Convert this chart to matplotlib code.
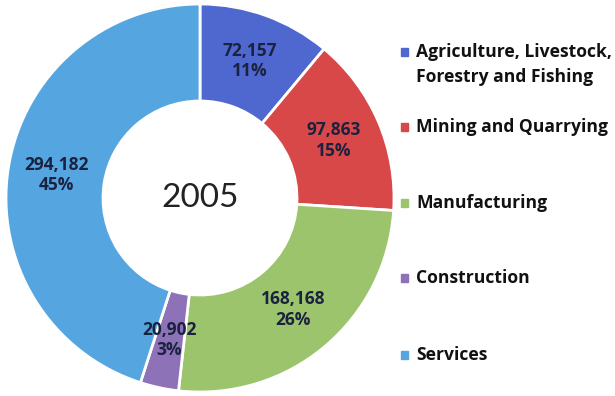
import matplotlib.pyplot as plt
from matplotlib.patches import Rectangle

sectors = ["Agriculture, Livestock,\nForestry and Fishing", "Mining and Quarrying",
           "Manufacturing", "Construction", "Services"]
values = [72157, 97863, 168168, 20902, 294182]
colors = ["#4F68CF", "#D84848", "#9CC46C", "#8E72B8", "#55A6E0"]
year = "2005"

total = sum(values)

W, H = 615, 396
fig = plt.figure(figsize=(W / 100, H / 100), dpi=100)

# donut on the left, radius 194 px around (200, 198)
R = 194
ax = fig.add_axes([0, 0, 400 / W, 1])
wedges, _, autotexts = ax.pie(
    values, colors=colors, startangle=90, counterclock=False, radius=1,
    wedgeprops=dict(width=0.5, edgecolor="white", linewidth=2),
    autopct=lambda p: f"{round(p * total / 100):,}\n{p:.0f}%",
    pctdistance=0.75,
    textprops=dict(fontfamily="Open Sans", fontweight="bold", fontsize=12.5,
                   color="#1B2240", linespacing=1.15),
)
ax.set_xlim(-200 / R, 200 / R)
ax.set_ylim(-198 / R, 198 / R)
ax.set_aspect("equal")
ax.axis("off")

ax.text(0, 0, year, ha="center", va="center", fontsize=24,
        fontfamily="Lato", color="#222222")

# legend drawn by hand: small square + bold label
legend_y = [52, 127, 203, 278, 355]
for name, c, y in zip(sectors, colors, legend_y):
    fy = 1 - y / H
    fig.patches.append(Rectangle((401 / W, fy - 4 / H), 7 / W, 8 / H,
                                 transform=fig.transFigure, color=c))
    two_lines = "\n" in name
    fig.text(416 / W, fy + (9 / H if two_lines else 0), name, ha="left",
             va="top" if two_lines else "center",
             fontsize=12.6, fontfamily="Open Sans", fontweight="bold",
             color="#111111", linespacing=1.5)

fig.savefig("out.png", dpi=100)
